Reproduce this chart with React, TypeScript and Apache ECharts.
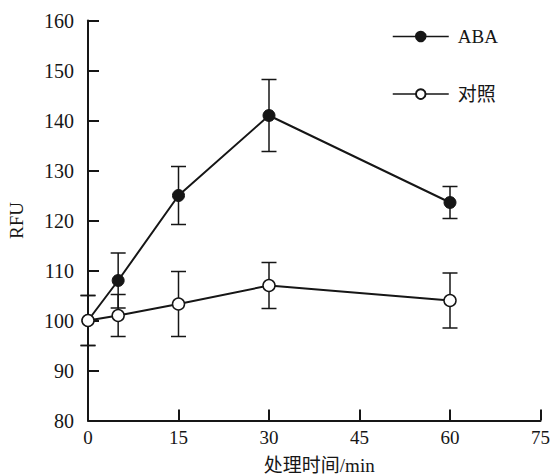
import React, { useEffect, useRef } from "react";
import * as echarts from "echarts";

const times = [0, 5, 15, 30, 60];
const abaMean = [100, 108, 125, 141, 123.6];
const abaErr = [5, 5.5, 5.8, 7.2, 3.2];
const ctrlMean = [100, 101, 103.3, 107, 104];
const ctrlErr = [5, 4.2, 6.5, 4.6, 5.5];
const seriesNames = ["ABA", "对照"];
const xAxisName = "处理时间/min";
const yAxisName = "RFU";

const INK = "#161616";
const SERIF = "'Liberation Serif', 'Times New Roman', 'Noto Sans CJK SC', serif";

export default function App() {
  const ref = useRef<HTMLDivElement>(null);
  useEffect(() => {
    if (!ref.current) return;
    const chart = echarts.init(ref.current, undefined, { renderer: "svg" });
    const errRender = (params: any, api: any) => {
      const x = api.value(0);
      const lo = api.coord([x, api.value(1)]);
      const hi = api.coord([x, api.value(2)]);
      const hw = 7.5;
      const st = { stroke: INK, lineWidth: 1.5 };
      return {
        type: "group",
        children: [
          { type: "line", shape: { x1: hi[0], y1: hi[1], x2: lo[0], y2: lo[1] }, style: st },
          { type: "line", shape: { x1: hi[0] - hw, y1: hi[1], x2: hi[0] + hw, y2: hi[1] }, style: st },
          { type: "line", shape: { x1: lo[0] - hw, y1: lo[1], x2: lo[0] + hw, y2: lo[1] }, style: st },
        ],
      };
    };
    const errData = (m: number[], e: number[]) => times.map((t, i) => [t, m[i] - e[i], m[i] + e[i]]);
    chart.setOption({
      animation: false,
      backgroundColor: "#fff",
      textStyle: { fontFamily: SERIF, color: INK },
      grid: { left: 88, right: 11.5, top: 20.5, bottom: 55.5, containLabel: false, outerBoundsMode: "none" },
      legend: {
        data: seriesNames,
        orient: "vertical",
        left: 392,
        top: 26.5,
        padding: 0,
        itemWidth: 56,
        itemHeight: 12,
        itemGap: 37.6,
        lineStyle: { width: 1.5 },
        textStyle: { fontFamily: SERIF, fontSize: 19, color: INK, lineHeight: 20, padding: [0, 0, 0, 4] },
      },
      xAxis: {
        type: "value",
        min: 0,
        max: 75,
        interval: 15,
        name: xAxisName,
        nameLocation: "middle",
        nameGap: 35,
        nameTextStyle: { fontFamily: SERIF, fontSize: 19, color: INK, padding: [0, 0, 0, 10] },
        axisLine: { lineStyle: { color: INK, width: 2 } },
        axisTick: { inside: true, length: 11, lineStyle: { color: INK, width: 2 } },
        axisLabel: { fontFamily: SERIF, fontSize: 19, color: INK, margin: 7 },
        splitLine: { show: false },
      },
      yAxis: {
        type: "value",
        min: 80,
        max: 160,
        interval: 10,
        name: yAxisName,
        nameLocation: "middle",
        nameGap: 62,
        nameTextStyle: { fontFamily: SERIF, fontSize: 19, color: INK },
        axisLine: { show: true, lineStyle: { color: INK, width: 2 } },
        axisTick: { show: true, inside: true, length: 11, lineStyle: { color: INK, width: 2 } },
        axisLabel: { fontFamily: SERIF, fontSize: 20, color: INK, margin: 14 },
        splitLine: { show: false },
      },
      series: [
        {
          type: "custom",
          name: "abaErr",
          renderItem: errRender,
          data: errData(abaMean, abaErr),
          encode: { x: 0, y: [1, 2] },
          z: 1,
          silent: true,
        },
        {
          type: "custom",
          name: "ctrlErr",
          renderItem: errRender,
          data: errData(ctrlMean, ctrlErr),
          encode: { x: 0, y: [1, 2] },
          z: 1,
          silent: true,
        },
        {
          type: "line",
          name: seriesNames[0],
          data: times.map((t, i) => [t, abaMean[i]]),
          symbol: "circle",
          symbolSize: 12,
          showAllSymbol: true,
          lineStyle: { color: INK, width: 2 },
          itemStyle: { color: INK, borderColor: INK, borderWidth: 1 },
          z: 3,
        },
        {
          type: "line",
          name: seriesNames[1],
          data: times.map((t, i) => [t, ctrlMean[i]]),
          symbol: "circle",
          symbolSize: 12,
          showAllSymbol: true,
          lineStyle: { color: INK, width: 2 },
          itemStyle: { color: "#fff", borderColor: INK, borderWidth: 1.5 },
          z: 4,
        },
      ],
    });
    return () => chart.dispose();
  }, []);
  return <div ref={ref} style={{ width: 552, height: 476, position: "absolute", left: 0, top: 0 }} />;
}
